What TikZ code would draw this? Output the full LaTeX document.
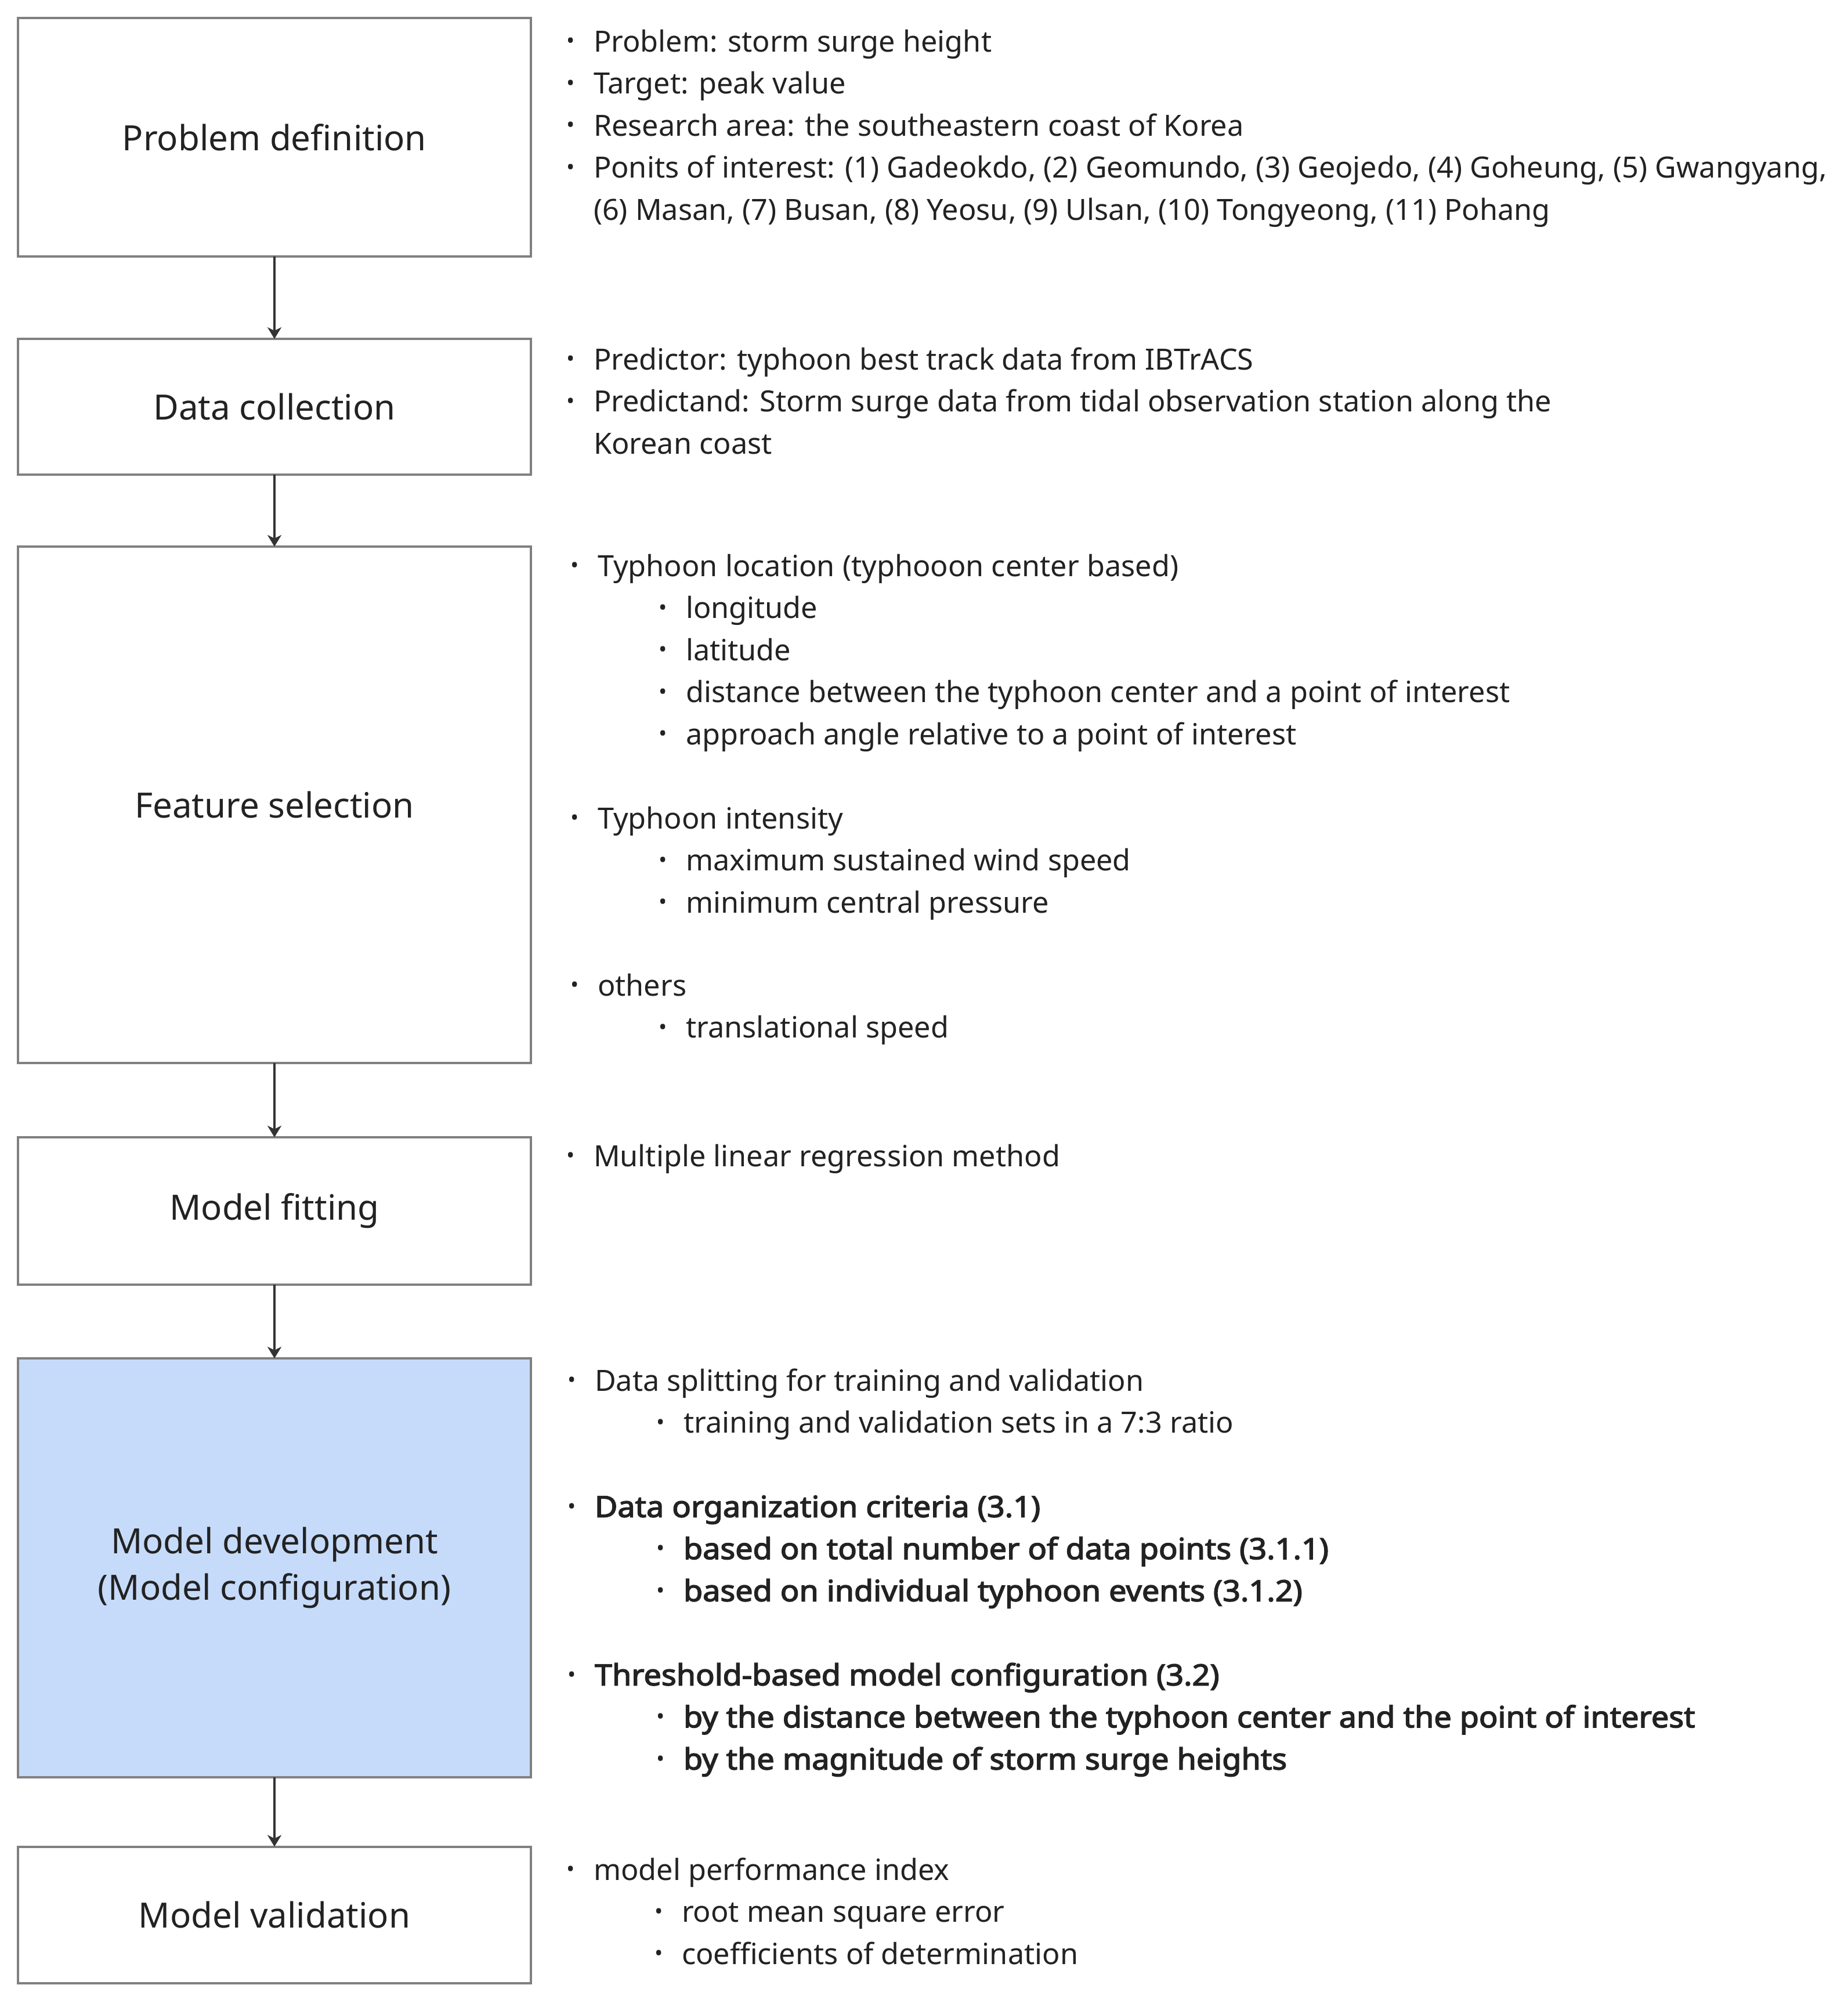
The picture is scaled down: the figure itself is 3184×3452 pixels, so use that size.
\documentclass[tikz,border=0pt]{standalone}
\usepackage{fontspec}
\setmainfont{Noto Sans}
\newfontfamily\nsbold{Noto Sans}[FakeBold=3,FakeStretch=1.07]
\usetikzlibrary{arrows.meta}
\definecolor{txt}{HTML}{222222}
\definecolor{boxline}{HTML}{808080}
\definecolor{bluefill}{HTML}{C6DBFA}
\definecolor{arrowc}{HTML}{333333}
\newlength{\unitpx}
\setlength{\unitpx}{0.25pt}
\newcommand{\bl}[1]{\makebox[47\unitpx][l]{\raisebox{0.2ex}{\fontsize{9.5}{9.5}\selectfont\rmfamily •}}#1}
\begin{document}
\begin{tikzpicture}[x=0.25pt,y=-0.25pt,
  stepbox/.style={draw=boxline,line width=1pt,fill=white,rectangle,inner sep=0pt,outer sep=0pt,
    minimum width=884*0.25pt,text=txt,align=center,font=\fontsize{15}{20}\selectfont},
  item/.style={anchor=base west,inner sep=0pt,outer sep=0pt,text=txt,font=\fontsize{12.6}{14}\selectfont},
  bitem/.style={item,font=\fontsize{12.6}{14}\selectfont\nsbold},
  flow/.style={draw=arrowc,line width=1pt,-{Stealth[length=5pt,width=6pt,inset=1.5pt]}}]
\useasboundingbox (0,0) rectangle (3184,3452);
% boxes
\node[stepbox,minimum height=411*0.25pt] (b1) at (473,236.5) {Problem definition};
\node[stepbox,minimum height=234*0.25pt] (b2) at (473,701) {Data collection};
\node[stepbox,minimum height=890*0.25pt] (b3) at (473,1387) {Feature selection};
\node[stepbox,minimum height=254*0.25pt] (b4) at (473,2087) {Model fitting};
\node[stepbox,minimum height=722*0.25pt,fill=bluefill] (b5) at (473,2702) {Model development\\(Model configuration)};
\node[stepbox,minimum height=235*0.25pt] (b6) at (473,3300) {Model validation};
% arrows
\draw[flow] (b1.south) -- (b2.north);
\draw[flow] (b2.south) -- (b3.north);
\draw[flow] (b3.south) -- (b4.north);
\draw[flow] (b4.south) -- (b5.north);
\draw[flow] (b5.south) -- (b6.north);
% box 1 texts
\node[item] (t11) at (976,89) {\bl{Problem: storm surge height}};
\node[item] (t12) at (976,161.5) {\bl{Target: peak value}};
\node[item] (t13) at (976,234) {\bl{Research area: the southeastern coast of Korea}};
\node[item] (t14) at (976,306.5) {\bl{Ponits of interest: (1) Gadeokdo, (2) Geomundo, (3) Geojedo, (4) Goheung, (5) Gwangyang,}};
\node[item] (t15) at (1023,379) {(6) Masan, (7) Busan, (8) Yeosu, (9) Ulsan, (10) Tongyeong, (11) Pohang};
% box 2 texts
\node[item] (t21) at (976,637) {\bl{Predictor: typhoon best track data from IBTrACS}};
\node[item] (t22) at (976,709.5) {\bl{Predictand: Storm surge data from tidal observation station along the}};
\node[item] (t23) at (1023,782) {Korean coast};
% box 3 texts
\node[item] (t31) at (983,993) {\bl{Typhoon location (typhooon center based)}};
\node[item] (t32) at (1135,1065.5) {\bl{longitude}};
\node[item] (t33) at (1135,1138) {\bl{latitude}};
\node[item] (t34) at (1135,1210.5) {\bl{distance between the typhoon center and a point of interest}};
\node[item] (t35) at (1135,1283) {\bl{approach angle relative to a point of interest}};
\node[item] (t36) at (983,1428) {\bl{Typhoon intensity}};
\node[item] (t37) at (1135,1500.5) {\bl{maximum sustained wind speed}};
\node[item] (t38) at (1135,1573) {\bl{minimum central pressure}};
\node[item] (t39) at (983,1716) {\bl{others}};
\node[item] (t310) at (1135,1788.5) {\bl{translational speed}};
% box 4 texts
\node[item] (t41) at (976,2010) {\bl{Multiple linear regression method}};
% box 5 texts
\node[item] (t51) at (978,2397) {\bl{Data splitting for training and validation}};
\node[item] (t52) at (1131,2469.5) {\bl{training and validation sets in a 7:3 ratio}};
\node[bitem] (t53) at (978,2614.5) {\bl{Data organization criteria (3.1)}};
\node[bitem] (t54) at (1131,2687) {\bl{based on total number of data points (3.1.1)}};
\node[bitem] (t55) at (1131,2759.5) {\bl{based on individual typhoon events (3.1.2)}};
\node[bitem] (t56) at (978,2904.5) {\bl{Threshold-based model configuration (3.2)}};
\node[bitem] (t57) at (1131,2977) {\bl{by the distance between the typhoon center and the point of interest}};
\node[bitem] (t58) at (1131,3049.5) {\bl{by the magnitude of storm surge heights}};
% box 6 texts
\node[item] (t61) at (976,3240) {\bl{model performance index}};
\node[item] (t62) at (1128,3312.5) {\bl{root mean square error}};
\node[item] (t63) at (1128,3385) {\bl{coefficients of determination}};
\end{tikzpicture}
\end{document}
